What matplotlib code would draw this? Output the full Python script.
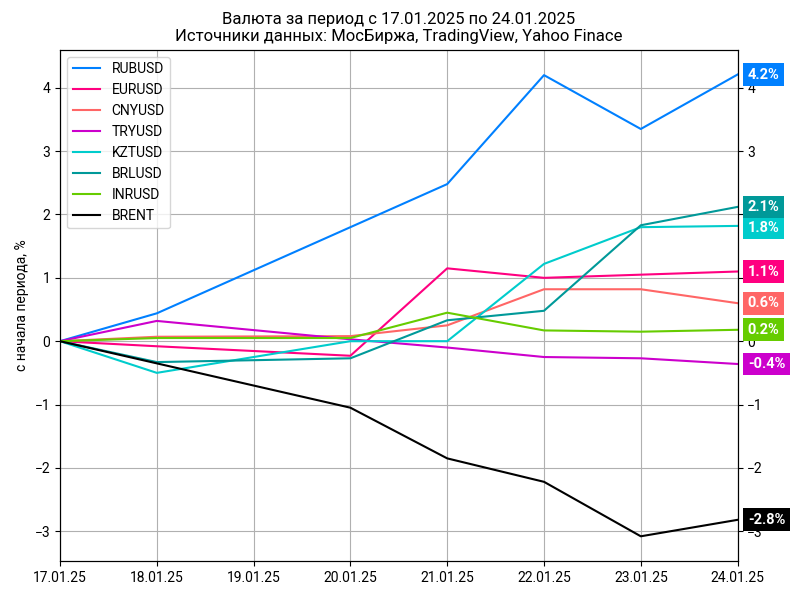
import matplotlib
matplotlib.use("Agg")
import matplotlib.pyplot as plt
import numpy as np

plt.rcParams['font.family'] = ['Roboto', 'DejaVu Sans']

dates = ["17.01.25", "18.01.25", "19.01.25", "20.01.25", "21.01.25", "22.01.25", "23.01.25", "24.01.25"]
day_idx = [0, 1, 3, 4, 5, 6, 7]
names = ["RUBUSD", "EURUSD", "CNYUSD", "TRYUSD", "KZTUSD", "BRLUSD", "INRUSD", "BRENT"]
colors = ["#0080ff", "#ff0080", "#ff6666", "#cc00cc", "#00cccc", "#009999", "#66cc00", "#000000"]
rub = [0, 0.44, 1.8, 2.48, 4.2, 3.35, 4.21]
eur = [0, -0.08, -0.23, 1.15, 1.0, 1.05, 1.1]
cny = [0, 0.07, 0.08, 0.25, 0.82, 0.82, 0.6]
tr = [0, 0.32, 0.03, -0.1, -0.25, -0.27, -0.36]
kzt = [0, -0.5, 0.0, 0.0, 1.22, 1.8, 1.82]
brl = [0, -0.33, -0.27, 0.33, 0.48, 1.83, 2.12]
inr = [0, 0.05, 0.05, 0.45, 0.17, 0.15, 0.18]
brent = [0, -0.35, -1.05, -1.85, -2.22, -3.08, -2.82]
series = [rub, eur, cny, tr, kzt, brl, inr, brent]

fig = plt.figure(figsize=(8, 6), dpi=100)
ax = fig.add_axes([0.075, 0.065, 0.847, 0.852])
for n, c, s in zip(names, colors, series):
    ax.plot(day_idx, s, color=c, label=n, lw=1.5)
ax.set_xlim(0, 7)
ax.set_ylim(-3.47, 4.6)
ax.set_xticks(range(8))
ax.set_xticklabels(dates)
ax.grid(True, color="#b0b0b0")
ax.set_ylabel("с начала периода, %")
ax.set_title("Валюта за период с 17.01.2025 по 24.01.2025\nИсточники данных: МосБиржа, TradingView, Yahoo Finace", fontsize=12)
ax.legend(loc="upper left", bbox_to_anchor=(0.0, 1.0))
ax2 = ax.twinx()
ax2.set_ylim(ax.get_ylim())
ax2.set_yticks(ax.get_yticks())
ax2.set_ylim(ax.get_ylim())

last = [s[-1] for s in series]
order = np.argsort(last)[::-1]
pos = {}
prev = None
gap = 0.33
for i in order:
    y = last[i]
    if prev is not None and prev - y < gap:
        y = prev - gap
    pos[i] = y
    prev = y
for i in range(len(series)):
    ax2.annotate(f"{last[i]:.1f}%", xy=(1.015, pos[i]), xycoords=("axes fraction", "data"),
                 va="center", ha="left", color="white", fontweight="bold", fontsize=10.5,
                 bbox=dict(boxstyle="square,pad=0.3", fc=colors[i], ec="none"))
fig.savefig("out.png")
